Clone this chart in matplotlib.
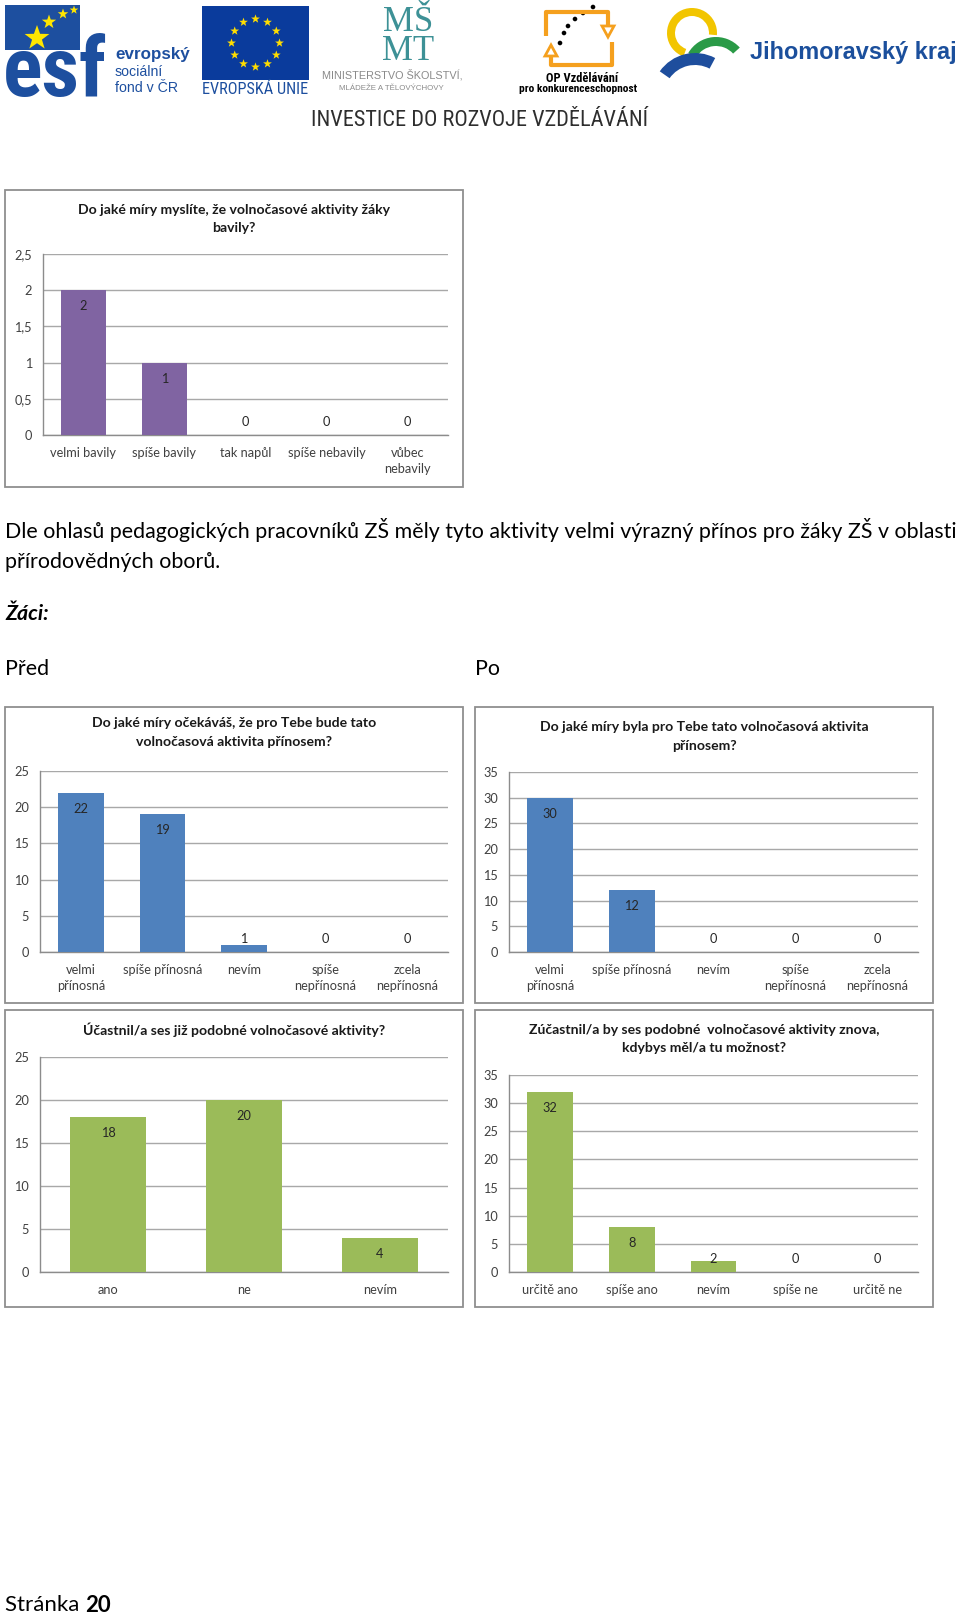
import numpy as np
import matplotlib
matplotlib.use("Agg")
import matplotlib.pyplot as plt
from matplotlib import font_manager as fm
from matplotlib.patches import Rectangle, Polygon, Wedge, Circle

# ---------------- data ----------------
q1_title = ["Do jaké míry myslíte, že volnočasové aktivity žáky", "bavily?"]
q1_cats = ["velmi bavily", "spíše bavily", "tak napůl", "spíše nebavily", "vůbec\nnebavily"]
q1_vals = [2, 1, 0, 0, 0]
q1_ticks = [0, 0.5, 1, 1.5, 2, 2.5]
q1_ticklabels = ["0", "0,5", "1", "1,5", "2", "2,5"]

q2_title = ["Do jaké míry očekáváš, že pro Tebe bude tato", "volnočasová aktivita přínosem?"]
q2_cats = ["velmi\npřínosná", "spíše přínosná", "nevím", "spíše\nnepřínosná", "zcela\nnepřínosná"]
q2_vals = [22, 19, 1, 0, 0]
q2_ticks = [0, 5, 10, 15, 20, 25]

q3_title = ["Do jaké míry byla pro Tebe tato volnočasová aktivita", "přínosem?"]
q3_cats = ["velmi\npřínosná", "spíše přínosná", "nevím", "spíše\nnepřínosná", "zcela\nnepřínosná"]
q3_vals = [30, 12, 0, 0, 0]
q3_ticks = [0, 5, 10, 15, 20, 25, 30, 35]

q4_title = ["Účastnil/a ses již podobné volnočasové aktivity?"]
q4_cats = ["ano", "ne", "nevím"]
q4_vals = [18, 20, 4]
q4_ticks = [0, 5, 10, 15, 20, 25]

q5_title = ["Zúčastnil/a by ses podobné  volnočasové aktivity znova,", "kdybys měl/a tu možnost?"]
q5_cats = ["určitě ano", "spíše ano", "nevím", "spíše ne", "určitě ne"]
q5_vals = [32, 8, 2, 0, 0]
q5_ticks = [0, 5, 10, 15, 20, 25, 30, 35]

body_line1 = "Dle ohlasů pedagogických pracovníků ZŠ měly tyto aktivity velmi výrazný přínos pro žáky ZŠ v oblasti"
body_line2 = "přírodovědných oborů."
heading = "Žáci:"
label_before = "Před"
label_after = "Po"
footer_word = "Stránka "
footer_num = "20"

# ---------------- setup ----------------
W, H, DPI = 960, 1613, 100
BASE = ['Lato', 'DejaVu Sans']
plt.rcParams['font.family'] = BASE
fig = plt.figure(figsize=(W / DPI, H / DPI), dpi=DPI)
fig.patch.set_facecolor('white')
R = fig.canvas.get_renderer()


def has_font(name):
    try:
        fm.findfont(fm.FontProperties(family=name), fallback_to_default=False)
        return True
    except Exception:
        return False


def pick(cands, default):
    for c in cands:
        if has_font(c):
            return c
    return default


NARROW = pick(['Liberation Sans Narrow', 'Roboto Condensed', 'Open Sans Condensed'], 'Liberation Sans')
ARIAL = pick(['Liberation Sans'], 'DejaVu Sans')
SERIF = pick(['Liberation Serif', 'DejaVu Serif'], 'DejaVu Serif')


def tw(s, size=10, family=None, **kw):
    fam = [family, 'DejaVu Sans'] if isinstance(family, str) else (family or BASE)
    fp = fm.FontProperties(family=fam, size=size, **kw)
    w, h, d = R.get_text_width_height_descent(s, fp, ismath=False)
    return w


def fit(s, width, family=None, **kw):
    return 10.0 * width / tw(s, 10, family, **kw)


bg = fig.add_axes([0, 0, 1, 1], zorder=0)
bg.set_xlim(0, W)
bg.set_ylim(H, 0)
bg.axis('off')


def T(x, y, s, size, ha='left', va='center', family=None, **kw):
    fam = [family, 'DejaVu Sans'] if isinstance(family, str) else (family or BASE)
    bg.text(x, y, s, fontsize=size, ha=ha, va=va, family=fam, **kw)


def star(cx, cy, r, color):
    pts = []
    for k in range(10):
        ang = np.deg2rad(-90 + k * 36)
        rr = r if k % 2 == 0 else r * 0.4
        pts.append((cx + rr * np.cos(ang), cy + rr * np.sin(ang)))
    bg.add_patch(Polygon(pts, closed=True, fc=color, ec='none'))


# ---------------- header logos ----------------
ESF_BLUE = '#1d4f9f'
# ESF
bg.add_patch(Rectangle((5, 5), 75, 45, fc=ESF_BLUE, ec='none'))
star(37, 38, 13, '#ffe600')
star(49, 22, 7.5, '#ffe600')
star(63, 14, 5.5, '#ffe600')
star(74, 10, 4.5, '#ffe600')
T(3, 96, "esf", fit("esf", 104, family=NARROW, weight='bold'), va='baseline',
  family=NARROW, weight='bold', color=ESF_BLUE)
T(115, 55, "evropský", fit("evropský", 75, family=ARIAL, weight='bold'), family=ARIAL,
  weight='bold', color=ESF_BLUE)
T(115, 72, "sociální", fit("fond v ČR", 63, family=ARIAL), family=ARIAL, color=ESF_BLUE)
T(115, 88, "fond v ČR", fit("fond v ČR", 63, family=ARIAL), family=ARIAL, color=ESF_BLUE)

# EU flag
bg.add_patch(Rectangle((202, 6), 107, 74, fc='#0a3b9c', ec='none'))
for k in range(12):
    a = np.deg2rad(k * 30)
    star(255.5 + 24 * np.cos(a), 43 + 24 * np.sin(a), 4.6, '#ffdd00')
T(255.5, 89, "EVROPSKÁ UNIE", fit("EVROPSKÁ UNIE", 106, family=NARROW), ha='center',
  family=NARROW, color=ESF_BLUE)

# MSMT (one two-line text)
TEAL = '#3d9196'
T(408, 37, "MŠ\nMT", 25, ha='center', va='center', family=SERIF, color=TEAL,
  linespacing=0.85)
T(392, 75, "MINISTERSTVO ŠKOLSTVÍ,", fit("MINISTERSTVO ŠKOLSTVÍ,", 141, family=ARIAL),
  ha='center', family=ARIAL, color='#8a8a8a')
T(391, 89, "MLÁDEŽE A TĚLOVÝCHOVY", fit("MLÁDEŽE A TĚLOVÝCHOVY", 105, family=ARIAL),
  ha='center', family=ARIAL, color='#8a8a8a')

# OP logo
ORANGE = '#f5a01e'
bg.plot([546, 546, 608, 608], [36, 12, 12, 26], color=ORANGE, lw=3, solid_capstyle='butt')
bg.add_patch(Polygon([(602, 26), (614, 26), (608, 37)], closed=True, fill=False, ec=ORANGE, lw=2))
bg.plot([612, 612, 551, 551], [42, 65, 65, 56], color=ORANGE, lw=3, solid_capstyle='butt')
bg.add_patch(Polygon([(545, 56), (557, 56), (551, 45)], closed=True, fill=False, ec=ORANGE, lw=2))
for (dx, dy) in [(560, 43), (564, 33), (568, 26), (575, 19), (583, 13), (593, 7)]:
    bg.add_patch(Circle((dx, dy), 2.3, fc='black', ec='none'))
T(582, 79, "OP Vzdělávání", fit("OP Vzdělávání", 72, family=NARROW, weight='bold'),
  ha='center', family=NARROW, weight='bold', color='black')
T(578, 89, "pro konkurenceschopnost", fit("pro konkurenceschopnost", 118, family=NARROW, weight='bold'),
  ha='center', family=NARROW, weight='bold', color='black')

# Jihomoravsky kraj
bg.add_patch(Wedge((692, 33), 25, -250, 5, width=8, fc='#f2c500', ec='none'))
bg.add_patch(Wedge((716, 69), 32, -150, -42, width=9, fc='#2a9a47', ec='none'))
bg.add_patch(Wedge((695, 96), 43, -145, -62, width=12, fc='#1e4e9d', ec='none'))
T(750, 52, "Jihomoravský kraj", fit("Jihomoravský kraj", 206, family=ARIAL, weight='bold'),
  family=ARIAL, weight='bold', color='#1b4f9c')

T(479.5, 120, "INVESTICE DO ROZVOJE VZDĚLÁVÁNÍ",
  fit("INVESTICE DO ROZVOJE VZDĚLÁVÁNÍ", 337, family=NARROW), ha='center',
  family=NARROW, color='#2e2e2e')

# ---------------- body text ----------------
BODY_FS = fit(body_line1, 950)
T(5, 530, body_line1, BODY_FS, color='black')
T(5, 562, body_line2, BODY_FS, color='black')
T(5, 614, heading, BODY_FS, weight='bold', style='italic', color='black')
T(5, 669, label_before, BODY_FS, color='black')
T(475, 669, label_after, BODY_FS, color='black')

w_reg = tw(footer_word, 10)
w_bold = tw(footer_num, 10, weight='bold')
FOOT_FS = 10 * 106 / (w_reg + w_bold)
T(5, 1605, footer_word, FOOT_FS, color='black')
T(5 + w_reg * FOOT_FS / 10, 1605, footer_num, FOOT_FS, weight='bold', color='black')

# ---------------- charts ----------------
TITLE_FS = fit(q1_title[0], 311, weight='bold')
TICK_FS = fit("velmi bavily", 66)
PAD = 11 * 72 / DPI


def chart(box, plot, title, title_y, cats, vals, ticks, ticklabels, color):
    l, t, r, b = box
    bg.add_patch(Rectangle((l, t), r - l, b - t, fill=False, ec='#8f8f8f', lw=1.3))
    cx = (l + r) / 2
    for s, y in zip(title, title_y):
        T(cx, y, s, TITLE_FS, ha='center', weight='bold', color='#1a1a1a')
    pl, pt, pr, pb = plot
    ax = fig.add_axes([pl / W, 1 - pb / H, (pr - pl) / W, (pb - pt) / H], zorder=2)
    ax.patch.set_alpha(0)
    n = len(cats)
    x = np.arange(n)
    ax.bar(x, vals, width=0.56, color=color, zorder=3)
    ax.set_xlim(-0.5, n - 0.5)
    ax.set_ylim(0, ticks[-1])
    ax.set_yticks(ticks)
    ax.set_yticklabels(ticklabels if ticklabels else [str(v) for v in ticks],
                       fontsize=TICK_FS, color='#404040')
    ax.tick_params(axis='y', length=0, pad=PAD)
    ax.set_xticks([])
    ax.yaxis.grid(True, color='#a8a8a8', lw=1.0)
    ax.set_axisbelow(True)
    for sp in ['top', 'right']:
        ax.spines[sp].set_visible(False)
    for sp in ['left', 'bottom']:
        ax.spines[sp].set_color('#8c8c8c')
        ax.spines[sp].set_linewidth(1.0)
    ph = pb - pt
    for i, (c, v) in enumerate(zip(cats, vals)):
        ax.annotate(c, xy=(i, 0), xycoords=('data', 'axes fraction'), xytext=(0, -12),
                    textcoords='offset pixels', ha='center', va='top', fontsize=TICK_FS,
                    color='#404040', linespacing=1.4)
        hpx = v / ticks[-1] * ph
        if hpx >= 26:
            ax.annotate(str(v), xy=(i, v), xytext=(0, -16), textcoords='offset pixels',
                        ha='center', va='center', fontsize=TICK_FS, color='#262626')
        else:
            ax.annotate(str(v), xy=(i, 0), xytext=(0, 13), textcoords='offset pixels',
                        ha='center', va='center', fontsize=TICK_FS, color='#262626')
    return ax


PURPLE = '#8064a2'
BLUE = '#4f81bd'
GREEN = '#9bbb59'

chart((5, 190, 463, 487), (43, 254, 448, 435), q1_title, [210, 228],
      q1_cats, q1_vals, q1_ticks, q1_ticklabels, PURPLE)
chart((5, 707, 463, 1003), (40, 771, 448, 952), q2_title, [723, 742],
      q2_cats, q2_vals, q2_ticks, None, BLUE)
chart((475, 707, 933, 1003), (509, 772, 918, 952), q3_title, [727, 746],
      q3_cats, q3_vals, q3_ticks, None, BLUE)
chart((5, 1010, 463, 1307), (40, 1057, 448, 1272), q4_title, [1030],
      q4_cats, q4_vals, q4_ticks, None, GREEN)
chart((475, 1010, 933, 1307), (509, 1075, 918, 1272), q5_title, [1030, 1048],
      q5_cats, q5_vals, q5_ticks, None, GREEN)

fig.savefig("out.png", dpi=DPI, facecolor='white')
